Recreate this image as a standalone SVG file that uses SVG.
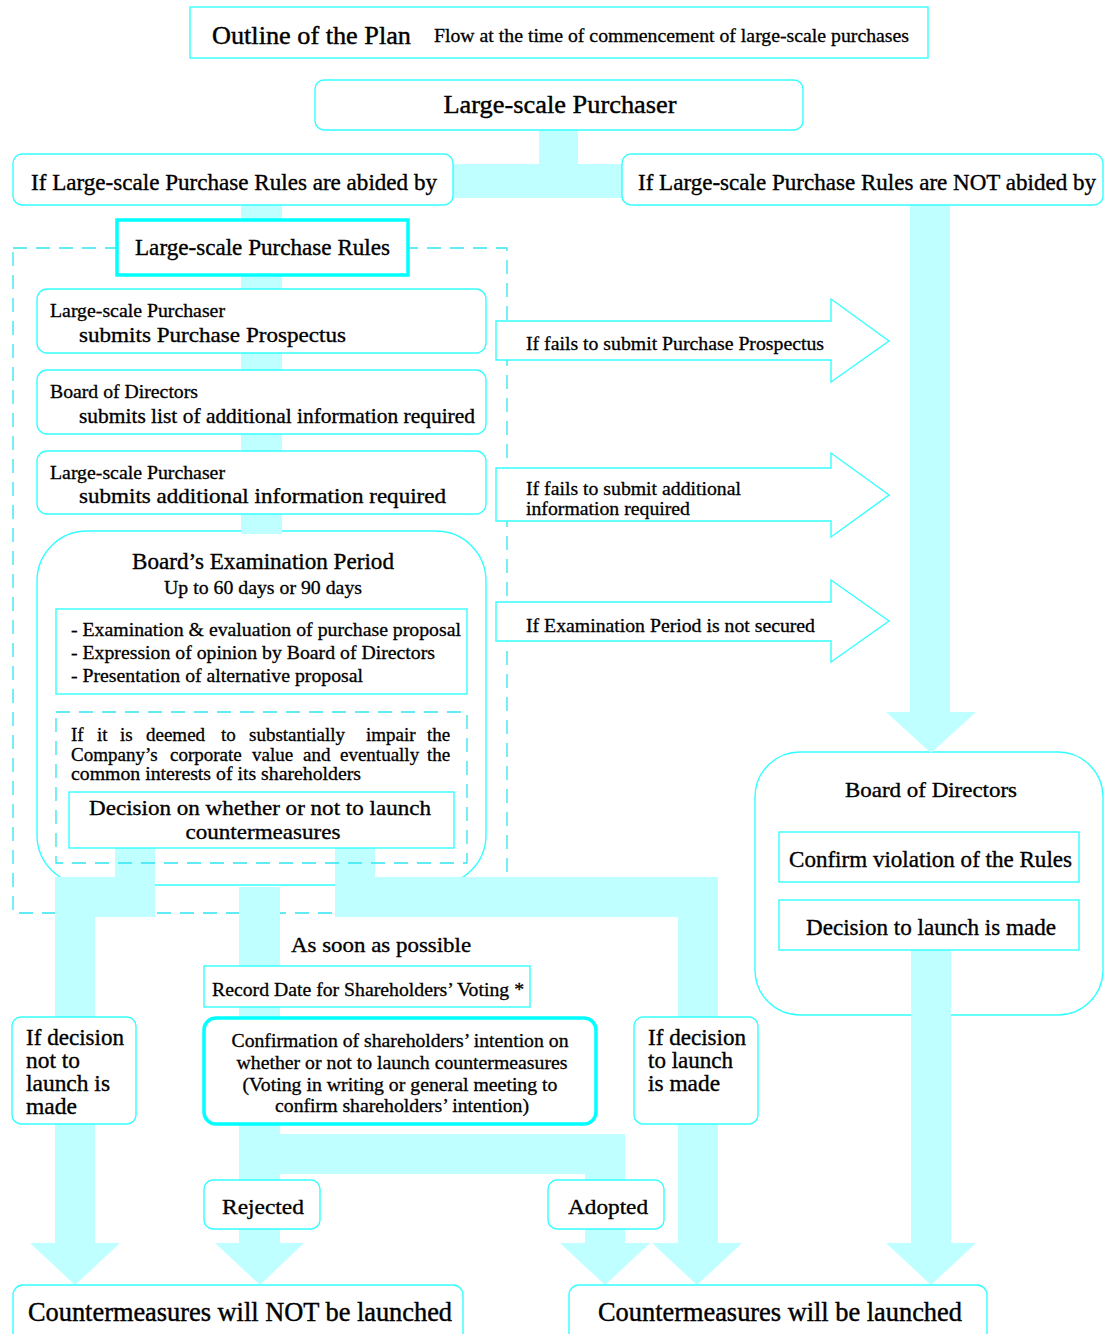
<svg xmlns="http://www.w3.org/2000/svg" width="1105" height="1334" viewBox="0 0 1105 1334" font-family="'Liberation Serif', 'Times New Roman', serif">
<defs>
<style>
.box{fill:#ffffff;stroke:#33ffff;stroke-width:1.4}
.thick{fill:#ffffff;stroke:#00ffff;stroke-width:3.5}
.dash{fill:none;stroke:#2ee6f2;stroke-width:1.3;stroke-dasharray:14 9}
.conn{fill:#bfffff;stroke:none}
.barrow{fill:#ffffff;stroke:#33ffff;stroke-width:1.4}
text{font-family:'Liberation Serif','Times New Roman',serif;fill:#000000;font-size:19px;stroke:#000000;stroke-width:0.3px}
.c{text-anchor:middle}
</style>
</defs>
<rect width="1105" height="1334" fill="#ffffff"/>

<g id="title">
<rect class="box" x="190" y="7" width="738" height="51"/>
<text transform="translate(212,44) scale(1.3684)" textLength="145.4" lengthAdjust="spacingAndGlyphs">Outline of the Plan</text>
<text x="434" y="42" textLength="475" lengthAdjust="spacingAndGlyphs">Flow at the time of commencement of large-scale purchases</text>
</g>

<g id="rules-area">
<rect class="dash" x="13" y="248" width="494" height="665"/>
</g>
<g id="exam-period">
<rect class="box" x="37" y="531" width="449" height="354" rx="50"/>
<text class="c" transform="translate(263,569) scale(1.2105)" textLength="216.4" lengthAdjust="spacingAndGlyphs">Board’s Examination Period</text>
<text class="c" x="263" y="594" textLength="198" lengthAdjust="spacingAndGlyphs">Up to 60 days or 90 days</text>
</g>
<g id="board-right">
<rect class="box" x="755" y="752" width="348" height="263" rx="45"/>
<text class="c" transform="translate(931,797) scale(1.1579)" textLength="148.5" lengthAdjust="spacingAndGlyphs">Board of Directors</text>
</g>

<g id="connectors">
<polygon class="conn" points="539,128 578,128 578,164 624,164 624,198 451,198 451,164 539,164"/>
<rect class="conn" x="241" y="203" width="41" height="331"/>
<polygon class="conn" points="910,203 950,203 950,712 976,712 931,753 886,712 910,712"/>
<polygon class="conn" points="911,948 951,948 951,1243 976,1243 931,1285 886,1243 911,1243"/>
<polygon class="conn" points="115,846 155,846 155,917 95,917 95,1243 120,1243 75,1285 30,1243 55,1243 55,877 115,877"/>
<polygon class="conn" points="335,846 375,846 375,877 718,877 718,1243 742,1243 697,1285 652,1243 678,1243 678,917 335,917"/>
<polygon class="conn" points="239,887 280,887 280,1134 625,1134 625,1243 650,1243 605,1285 560,1243 585,1243 585,1174 280,1174 280,1243 304,1243 260,1285 215,1243 239,1243"/>
<g id="arrow-prospectus">
<polygon class="barrow" points="496,321 831,321 831,299 889,341 831,382 831,360 496,360"/>
<text x="526" y="350" textLength="298" lengthAdjust="spacingAndGlyphs">If fails to submit Purchase Prospectus</text>
</g>
<g id="arrow-additional">
<polygon class="barrow" points="496,468 831,468 831,453 889,495 831,537 831,521 496,521"/>
<text x="526" y="495" textLength="215" lengthAdjust="spacingAndGlyphs">If fails to submit additional</text>
<text x="526" y="515" textLength="164" lengthAdjust="spacingAndGlyphs">information required</text>
</g>
<g id="arrow-period">
<polygon class="barrow" points="496,602 831,602 831,580 889,621 831,662 831,641 496,641"/>
<text x="526" y="632" textLength="289" lengthAdjust="spacingAndGlyphs">If Examination Period is not secured</text>
</g>
</g>

<g id="purchaser">
<rect class="box" x="315" y="80" width="488" height="50" rx="9"/>
<text class="c" transform="translate(560,113) scale(1.3684)" textLength="170.3" lengthAdjust="spacingAndGlyphs">Large-scale Purchaser</text>
</g>
<g id="abided">
<rect class="box" x="13" y="154" width="440" height="51" rx="9"/>
<text transform="translate(31,190) scale(1.2105)" textLength="335.4" lengthAdjust="spacingAndGlyphs">If Large-scale Purchase Rules are abided by</text>
</g>
<g id="not-abided">
<rect class="box" x="622" y="154" width="481" height="51" rx="9"/>
<text transform="translate(638,190) scale(1.2105)" textLength="378.4" lengthAdjust="spacingAndGlyphs">If Large-scale Purchase Rules are NOT abided by</text>
</g>
<g id="rules">
<rect class="thick" x="117" y="220" width="291" height="55"/>
<text transform="translate(135,255) scale(1.2105)" textLength="210.7" lengthAdjust="spacingAndGlyphs">Large-scale Purchase Rules</text>
</g>
<g id="step-prospectus">
<rect class="box" x="37" y="289" width="449" height="64" rx="10"/>
<text x="50" y="317" textLength="175" lengthAdjust="spacingAndGlyphs">Large-scale Purchaser</text>
<text transform="translate(79,342) scale(1.1579)" textLength="230.6" lengthAdjust="spacingAndGlyphs">submits Purchase Prospectus</text>
</g>
<g id="step-list">
<rect class="box" x="37" y="370" width="449" height="64" rx="10"/>
<text x="50" y="398" textLength="148" lengthAdjust="spacingAndGlyphs">Board of Directors</text>
<text transform="translate(79,423) scale(1.1579)" textLength="342" lengthAdjust="spacingAndGlyphs">submits list of additional information required</text>
</g>
<g id="step-additional">
<rect class="box" x="37" y="451" width="449" height="63" rx="10"/>
<text x="50" y="479" textLength="175" lengthAdjust="spacingAndGlyphs">Large-scale Purchaser</text>
<text transform="translate(79,503) scale(1.1579)" textLength="317" lengthAdjust="spacingAndGlyphs">submits additional information required</text>
</g>
<g id="exam-tasks">
<rect class="box" x="56" y="609" width="411" height="85"/>
<text x="71" y="636" textLength="390" lengthAdjust="spacingAndGlyphs">- Examination &amp; evaluation of purchase proposal</text>
<text x="71" y="659" textLength="364" lengthAdjust="spacingAndGlyphs">- Expression of opinion by Board of Directors</text>
<text x="71" y="682" textLength="292" lengthAdjust="spacingAndGlyphs">- Presentation of alternative proposal</text>
</g>
<g id="impair-condition">
<rect class="dash" x="56" y="712" width="411" height="151"/>
<text y="741"><tspan x="71">If</tspan> <tspan x="97">it</tspan> <tspan x="120">is</tspan> <tspan x="146">deemed</tspan> <tspan x="221">to</tspan> <tspan x="249">substantially</tspan> <tspan x="366">impair</tspan> <tspan x="427">the</tspan></text>
<text y="761"><tspan x="71">Company’s</tspan> <tspan x="170">corporate</tspan> <tspan x="252">value</tspan> <tspan x="303">and</tspan> <tspan x="340">eventually</tspan> <tspan x="427">the</tspan></text>
<text x="71" y="780" textLength="290" lengthAdjust="spacingAndGlyphs">common interests of its shareholders</text>
</g>
<g id="decision-launch">
<rect class="box" x="69" y="792" width="385" height="56"/>
<text class="c" transform="translate(260,815) scale(1.1053)" textLength="309.4" lengthAdjust="spacingAndGlyphs">Decision on whether or not to launch</text>
<text class="c" transform="translate(263,839) scale(1.1053)" textLength="140.2" lengthAdjust="spacingAndGlyphs">countermeasures</text>
</g>
<g id="confirm-violation">
<rect class="box" x="779" y="832" width="300" height="50"/>
<text transform="translate(789,867) scale(1.2105)" textLength="233.8" lengthAdjust="spacingAndGlyphs">Confirm violation of the Rules</text>
</g>
<g id="decision-made-right">
<rect class="box" x="779" y="900" width="300" height="50"/>
<text transform="translate(806,935) scale(1.2105)" textLength="206.5" lengthAdjust="spacingAndGlyphs">Decision to launch is made</text>
</g>
<g id="asap">
<text transform="translate(291,952) scale(1.1579)" textLength="155.5" lengthAdjust="spacingAndGlyphs">As soon as possible</text>
</g>
<g id="record-date">
<rect class="box" x="204" y="966" width="326" height="41"/>
<text x="212" y="996" textLength="312" lengthAdjust="spacingAndGlyphs">Record Date for Shareholders’ Voting *</text>
</g>
<g id="shareholder-confirmation">
<rect class="thick" x="204" y="1018" width="392" height="106" rx="12"/>
<text class="c" x="400" y="1047" textLength="337" lengthAdjust="spacingAndGlyphs">Confirmation of shareholders’ intention on</text>
<text class="c" x="402" y="1069" textLength="331" lengthAdjust="spacingAndGlyphs">whether or not to launch countermeasures</text>
<text class="c" x="400" y="1091" textLength="315" lengthAdjust="spacingAndGlyphs">(Voting in writing or general meeting to</text>
<text class="c" x="402" y="1112" textLength="254" lengthAdjust="spacingAndGlyphs">confirm shareholders’ intention)</text>
</g>
<g id="not-launch-decision">
<rect class="box" x="12" y="1017" width="124" height="107" rx="9"/>
<text transform="translate(26,1045) scale(1.2105)" textLength="81" lengthAdjust="spacingAndGlyphs">If decision</text>
<text transform="translate(26,1068) scale(1.2105)" textLength="44.6" lengthAdjust="spacingAndGlyphs">not to</text>
<text transform="translate(26,1091) scale(1.2105)" textLength="69.4" lengthAdjust="spacingAndGlyphs">launch is</text>
<text transform="translate(26,1114) scale(1.2105)" textLength="42.1" lengthAdjust="spacingAndGlyphs">made</text>
</g>
<g id="launch-decision">
<rect class="box" x="634" y="1017" width="124" height="107" rx="9"/>
<text transform="translate(648,1045) scale(1.2105)" textLength="81" lengthAdjust="spacingAndGlyphs">If decision</text>
<text transform="translate(648,1068) scale(1.2105)" textLength="70.2" lengthAdjust="spacingAndGlyphs">to launch</text>
<text transform="translate(648,1091) scale(1.2105)" textLength="59.5" lengthAdjust="spacingAndGlyphs">is made</text>
</g>
<g id="rejected">
<rect class="box" x="204" y="1180" width="116" height="49" rx="9"/>
<text class="c" transform="translate(263,1214) scale(1.1579)" textLength="70.8" lengthAdjust="spacingAndGlyphs">Rejected</text>
</g>
<g id="adopted">
<rect class="box" x="548" y="1180" width="116" height="49" rx="9"/>
<text class="c" transform="translate(608,1214) scale(1.1579)" textLength="69.1" lengthAdjust="spacingAndGlyphs">Adopted</text>
</g>
<g id="not-launched">
<rect class="box" x="13" y="1285" width="450" height="62" rx="10"/>
<text transform="translate(28,1321) scale(1.4211)" textLength="298.4" lengthAdjust="spacingAndGlyphs">Countermeasures will NOT be launched</text>
</g>
<g id="launched">
<rect class="box" x="569" y="1285" width="418" height="62" rx="10"/>
<text transform="translate(598,1321) scale(1.4211)" textLength="256.1" lengthAdjust="spacingAndGlyphs">Countermeasures will be launched</text>
</g>
</svg>
